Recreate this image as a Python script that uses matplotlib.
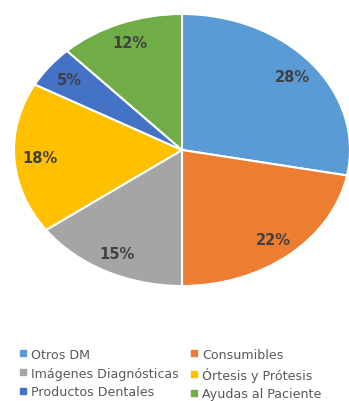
import matplotlib.pyplot as plt
from matplotlib.lines import Line2D

# data
labels = ['Otros DM', 'Consumibles', 'Imágenes Diagnósticas',
          'Órtesis y Prótesis', 'Productos Dentales', 'Ayudas al Paciente']
values = [28, 22, 15, 18, 5, 12]
colors = ['#5B9BD5', '#ED7D31', '#A5A5A5', '#FFC000', '#4472C4', '#70AD47']

fig = plt.figure(figsize=(3.49, 4.02), dpi=100)
W, H = 349, 402

# pie axes (stretched to an ellipse like the original)
ax = fig.add_axes([14 / W, (H - 287) / H, 336 / W, 272 / H])
wedges, texts, autotexts = ax.pie(
    values, colors=colors, startangle=90, counterclock=False,
    autopct='%1.0f%%', pctdistance=0.85,
    wedgeprops=dict(edgecolor='white', linewidth=1.5),
    textprops=dict(color='#404040', fontsize=10.5, fontweight='bold'))
ax.set_aspect('auto')
ax.set_xlim(-1, 1)
ax.set_ylim(-1, 1)
ax.axis('off')

# legend, filled row by row like the original (two columns)
order = [0, 2, 4, 1, 3, 5]
handles = [Line2D([], [], marker='s', linestyle='', markersize=4,
                  markerfacecolor=colors[i], markeredgecolor=colors[i])
           for i in order]
leg = fig.legend(handles, [labels[i] for i in order], ncol=2, loc='upper left',
                 bbox_to_anchor=(10 / W, 1 - 340 / H), frameon=False,
                 fontsize=9.1, labelcolor='#595959', handletextpad=0.25,
                 columnspacing=0.9, labelspacing=0.46, handlelength=0.7,
                 borderpad=0.2)

fig.savefig('out.png', dpi=100)
